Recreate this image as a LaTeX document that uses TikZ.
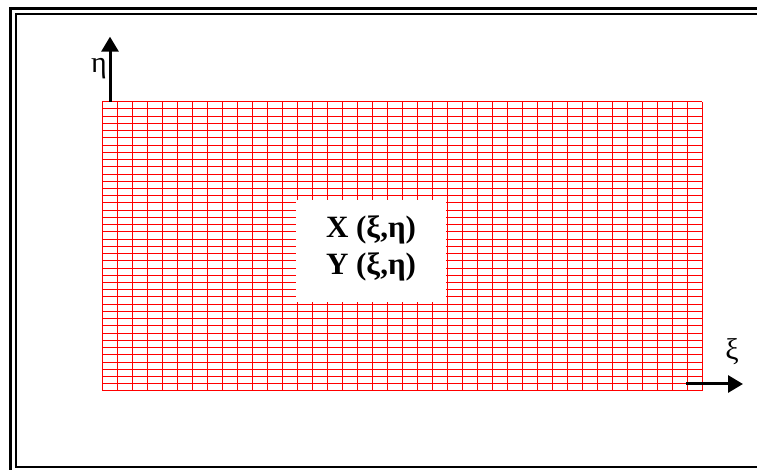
\documentclass[tikz,border=0pt]{standalone}
\usepackage{fontspec}
\setmainfont{Liberation Serif}
\usetikzlibrary{arrows.meta}

\tikzset{
    frameline/.style={draw=black, line width=2.5pt},
    axisarrow/.style={->, line width=3pt},
    mapline/.style={anchor=base, font=\bfseries\fontsize{31}{36}\selectfont}
}

\begin{document}
\begin{tikzpicture}[x=1pt, y=1pt, >={Triangle[length=15pt,width=17pt]}]
    \clip (0,0) rectangle (757,470);
    \fill[white] (0,0) rectangle (757,470);

    % double frame, right and bottom run off the page
    \draw[frameline] (10.5,461.3) rectangle (790,-20);
    \draw[frameline] (16,456) rectangle (780,3);

    % computational grid, 40 x 40 cells
    \draw[red, line width=1pt, shift={(102,79)}, xstep=15, ystep=7.2325] (0,0) grid (600.1,289.4);

    \node[fill=white, inner sep=0pt, minimum width=150pt, minimum height=102pt] (box) at (371,219) {};
    \node[mapline] (xmap) at (box.center |- 0,232) {X (ξ,η)};
    \node[mapline] (ymap) at (box.center |- 0,195) {Y (ξ,η)};

    % axes
    \coordinate (eta0) at (110,368.3);
    \coordinate (eta1) at (110,433.3);
    \coordinate (xi0) at (686,86);
    \coordinate (xi1) at (743,86);
    \draw[axisarrow] (eta0) -- (eta1);
    \draw[axisarrow] (xi0) -- (xi1);
    \node[font=\fontsize{30}{30}\selectfont] (etalab) at (99,401) {η};
    \node[font=\fontsize{30}{30}\selectfont] (xilab) at (732,118) {ξ};
\end{tikzpicture}
\end{document}
